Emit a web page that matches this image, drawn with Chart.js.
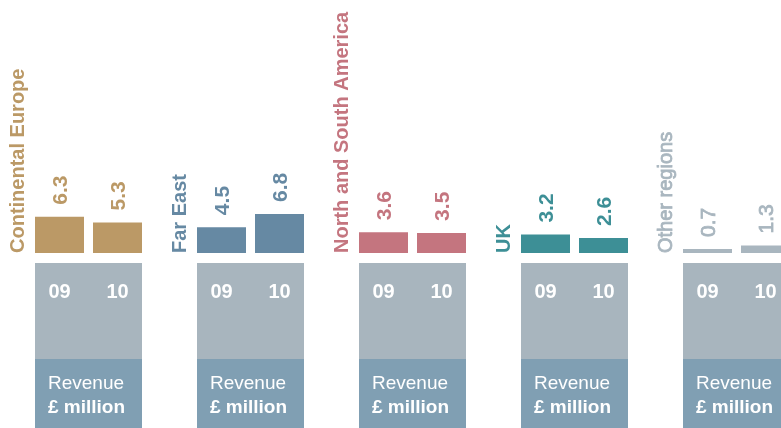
<!DOCTYPE html>
<html>
<head>
<meta charset="utf-8">
<script src="https://cdn.jsdelivr.net/npm/chart.js@4"></script>
<style>
  html, body { margin: 0; padding: 0; background: #fff; overflow: hidden; }
  #wrap { width: 820px; height: 428px; }
</style>
</head>
<body>
<div id="wrap"><canvas id="revenueChart" width="820" height="428"></canvas></div>
<script>
// Revenue by region, £ million
const regions = ['Continental Europe', 'Far East', 'North and South America', 'UK', 'Other regions'];
const years = ['09', '10'];
const revenue09 = [6.3, 4.5, 3.6, 3.2, 0.7];
const revenue10 = [5.3, 6.8, 3.5, 2.6, 1.3];

const regionColors = ['#bb9966', '#6689a3', '#c4757f', '#3d8f96', '#a9b6bf'];
const boxGrey = '#a8b5be';
const boxBlue = '#809fb3';
const FONT = '"Liberation Sans", Arial, Helvetica, sans-serif';

// draw text; the grey "other" group uses a medium weight (regular + thin outline)
function label(ctx, text, x, y, medium) {
  ctx.fillText(text, x, y);
  if (medium) {
    ctx.lineWidth = 0.8;
    ctx.strokeStyle = ctx.fillStyle;
    ctx.strokeText(text, x, y);
  }
}

// Labels, year strips and "Revenue £ million" panels under each region
const regionLabels = {
  id: 'regionLabels',
  afterDatasetsDraw(chart) {
    const ctx = chart.ctx;
    const base = chart.scales.y.getPixelForValue(0);
    const bottom = chart.height;
    const m09 = chart.getDatasetMeta(0).data;
    const m10 = chart.getDatasetMeta(1).data;

    regions.forEach((name, i) => {
      const b0 = m09[i], b1 = m10[i];
      const left = b0.x - b0.width / 2;
      const right = b1.x + b1.width / 2;
      const color = regionColors[i];
      const medium = i === regions.length - 1;
      const labelFont = size => (medium ? '' : 'bold ') + size + 'px ' + FONT;

      ctx.save();
      // panels
      ctx.fillStyle = boxGrey;
      ctx.fillRect(left, base + 10, right - left, 96);
      ctx.fillStyle = boxBlue;
      ctx.fillRect(left, base + 106, right - left, bottom - base - 106);

      // year labels
      ctx.fillStyle = '#fff';
      ctx.textAlign = 'center';
      ctx.textBaseline = 'alphabetic';
      ctx.font = 'bold 20px ' + FONT;
      [b0, b1].forEach((b, k) => ctx.fillText(years[k], b.x, base + 45));

      ctx.textAlign = 'left';
      ctx.font = '19px ' + FONT;
      ctx.fillText('Revenue', left + 13, base + 136);
      ctx.font = 'bold 19px ' + FONT;
      ctx.fillText('£ million', left + 13, base + 160);

      // region name, rotated
      ctx.fillStyle = color;
      ctx.font = labelFont(20);
      ctx.translate(left - 11, base);
      ctx.rotate(-Math.PI / 2);
      label(ctx, name, 0, 0, medium);
      ctx.restore();

      // value labels above the bars
      [b0, b1].forEach((b, k) => {
        const v = chart.data.datasets[k].data[i];
        ctx.save();
        ctx.fillStyle = color;
        ctx.font = labelFont(21);
        ctx.translate(b.x + 7.5, b.y - 12);
        ctx.rotate(-Math.PI / 2);
        ctx.textAlign = 'left';
        ctx.textBaseline = 'alphabetic';
        label(ctx, v.toFixed(1), 0, 0, medium);
        ctx.restore();
      });
    });
  }
};

new Chart(document.getElementById('revenueChart'), {
  type: 'bar',
  data: {
    labels: regions,
    datasets: [
      { label: years[0], data: revenue09, backgroundColor: regionColors },
      { label: years[1], data: revenue10, backgroundColor: regionColors }
    ]
  },
  options: {
    responsive: false,
    animation: false,
    events: [],
    layout: { padding: { left: 7.5, right: 2.5, top: 0, bottom: 175 } },
    datasets: {
      // bar 49px, gap 9px inside each 162px region slot
      bar: { categoryPercentage: 116 / 162, barPercentage: 49 / 58 }
    },
    scales: {
      x: { display: false },
      y: { display: false, min: 0, max: 44 }
    },
    plugins: {
      legend: { display: false },
      tooltip: { enabled: false }
    }
  },
  plugins: [regionLabels]
});
</script>
</body>
</html>
